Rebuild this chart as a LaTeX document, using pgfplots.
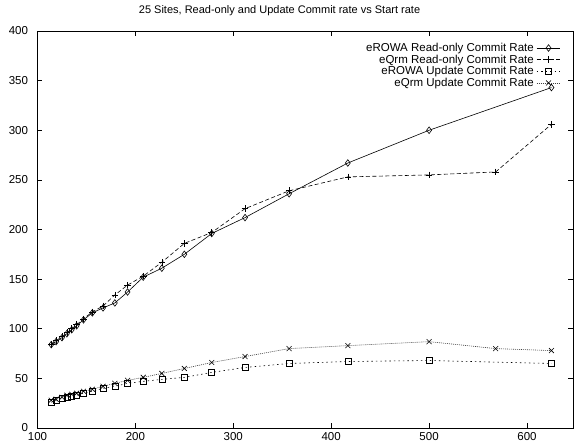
\documentclass[border=0pt]{standalone}
\usepackage{fontspec}
\setmainfont{Liberation Sans}
\usepackage{pgfplots}
\pgfplotsset{compat=1.18}
\begin{document}
\begin{tikzpicture}
\path[use as bounding box] (0,0) rectangle (574pt,445pt);
\begin{axis}[
  at={(37.5pt,17pt)}, anchor=south west,
  scale only axis, width=535.5pt, height=397pt,
  xmin=100, xmax=647, ymin=0, ymax=400,
  xtick={100,200,300,400,500,600},
  ytick={0,50,100,150,200,250,300,350,400},
  /pgf/number format/assume math mode=true,
  tick label style={font=\fontsize{11.5}{12}\selectfont},
  xticklabel style={yshift=-1pt},
  yticklabel style={xshift=-6pt},
  major tick length=5pt,
  tick style={black, line width=0.5pt},
  axis line style={line width=0.6pt},
  title={25 Sites, Read-only and Update Commit rate vs Start rate},
  title style={at={(0.452,1)}, anchor=base, yshift=11.5pt, font=\fontsize{11}{12}\selectfont},
  legend style={at={(1,1)}, anchor=north east, xshift=-9pt, yshift=-9pt,
    draw=none, fill=none, font=\fontsize{11.5}{12}\selectfont,
    nodes={inner ysep=0.9pt, inner xsep=2.5pt}},
  legend cell align=right,
  legend plot pos=right,
  legend image code/.code={\draw[mark repeat=2, mark phase=2] plot coordinates {(0cm,0cm) (0.42cm,0cm) (0.84cm,0cm)};},
  every axis plot/.append style={line width=0.6pt},
]
\addplot[black, mark=diamond, mark size=3.3pt, mark options={solid}] coordinates {
(114,84) (119,87) (125,91) (130,95) (135,99) (140,103) (147,109) (156,116)
(167,121) (179,126) (192,137) (208,152) (227,161) (250,175) (278,196)
(312,212) (357,236) (417,267) (500,300) (625,343)};
\addlegendentry{eROWA Read-only Commit Rate}
\addplot[black, dash pattern=on 4pt off 2.5pt, mark=+, mark size=3.3pt, mark options={solid}] coordinates {
(114,84) (119,88) (125,92) (130,96) (135,100) (140,104) (147,110) (156,117)
(167,123) (179,134) (192,144) (208,153) (227,167) (250,186) (278,197)
(312,221) (357,239) (417,253) (500,255) (568,258) (625,306)};
\addlegendentry{eQrm Read-only Commit Rate}
\addplot[black, dash pattern=on 1.5pt off 3pt, mark=square, mark size=3pt, mark options={solid}] coordinates {
(114,26) (119,28) (125,30) (130,31) (135,32) (140,33) (147,35) (156,37)
(167,40) (179,42) (192,45) (208,47) (227,49) (250,51) (278,56)
(312,61) (357,65) (417,67) (500,68) (625,65)};
\addlegendentry{eROWA Update Commit Rate}
\addplot[black!75, dash pattern=on 1pt off 1pt, mark=x, mark size=3.5pt, mark options={solid, black}] coordinates {
(114,28) (119,29) (125,31) (130,33) (135,34) (140,35) (147,37) (156,39)
(167,42) (179,45) (192,48) (208,51) (227,55) (250,60) (278,66)
(312,72) (357,80) (417,83) (500,87) (568,80) (625,78)};
\addlegendentry{eQrm Update Commit Rate}
\end{axis}
\end{tikzpicture}
\end{document}
